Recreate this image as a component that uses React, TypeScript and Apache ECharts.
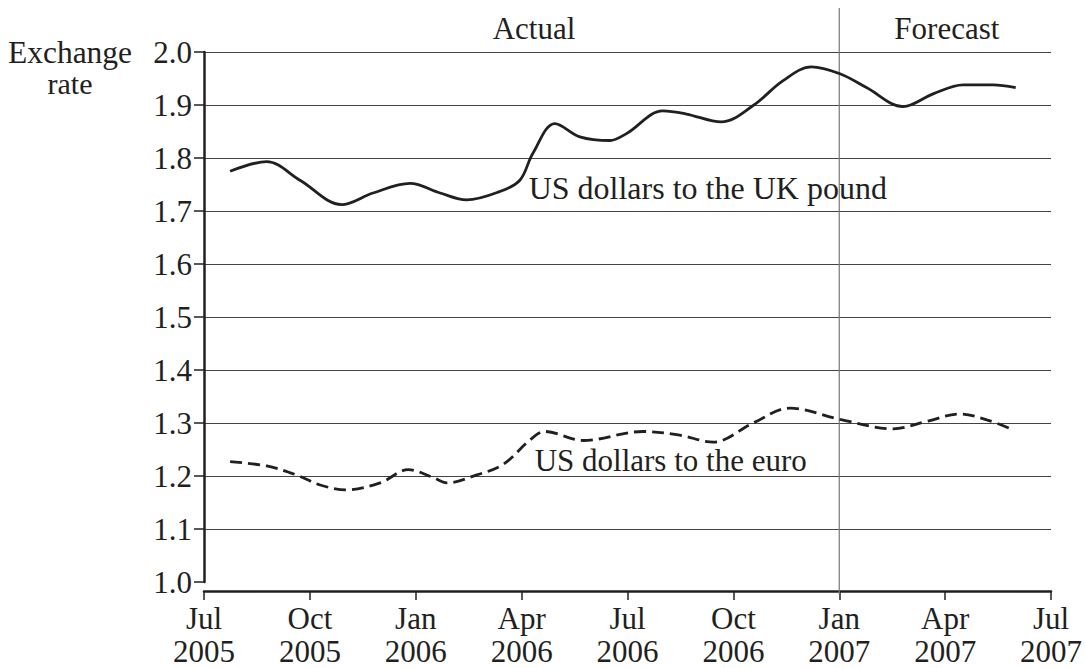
import React, { useEffect, useRef } from "react";
import * as echarts from "echarts";

// months since Jul 2005
const ukMonths = [0.74, 1.78, 2.72, 3.9, 4.79, 5.84, 6.69, 7.44, 8.39, 8.95, 9.32, 9.94, 10.65, 11.5, 11.97, 13.0, 13.67, 14.66, 15.56, 16.41, 17.21, 18.02, 18.77, 19.81, 20.66, 21.51, 22.36, 23.0];
const ukValues = [1.775, 1.793, 1.758, 1.712, 1.734, 1.752, 1.734, 1.721, 1.737, 1.758, 1.809, 1.865, 1.840, 1.833, 1.846, 1.889, 1.883, 1.868, 1.899, 1.946, 1.972, 1.959, 1.933, 1.897, 1.921, 1.938, 1.938, 1.933];

const euroMonths = [0.74, 1.78, 2.62, 3.29, 4.04, 4.99, 5.79, 6.5, 6.88, 7.73, 8.48, 9.24, 9.66, 10.74, 12.44, 13.48, 14.43, 15.56, 16.6, 18.02, 19.53, 20.47, 21.42, 22.18, 22.93];
const euroValues = [1.227, 1.219, 1.202, 1.183, 1.174, 1.187, 1.212, 1.197, 1.187, 1.202, 1.222, 1.268, 1.284, 1.267, 1.284, 1.277, 1.264, 1.300, 1.328, 1.307, 1.289, 1.303, 1.317, 1.306, 1.287];

const tickMonths = ["Jul", "Oct", "Jan", "Apr"];
const startYear = 2005;
const forecastStart = 18; // Jan 2007

const yAxisTitleLines = ["Exchange", "rate"];
const ukLabel = "US dollars to the UK pound";
const euroLabel = "US dollars to the euro";
const ukLabelAt = [9.2, 1.743];
const euroLabelAt = [9.37, 1.23];
const actualAt = 9.35;
const forecastAt = 21.05;

const FONT = "'Liberation Serif', 'Times New Roman', serif";
const INK = "#231f20";

export default function App() {
  const ref = useRef<HTMLDivElement>(null);
  useEffect(() => {
    if (!ref.current) return;
    const chart = echarts.init(ref.current, null, { renderer: "svg" });
    const zip = (xs: number[], ys: number[]) => xs.map((x, i) => [x, ys[i]]);
    chart.setOption({
      animation: false,
      textStyle: { fontFamily: FONT },
      grid: { left: 204, right: 33, top: 52, bottom: 83 },
      xAxis: {
        type: "value",
        min: 0,
        max: 24,
        interval: 3,
        offset: 9,
        axisLine: { show: true, lineStyle: { color: INK, width: 2.5 } },
        axisTick: { show: true, length: 9, lineStyle: { color: INK, width: 1.5 } },
        splitLine: { show: false },
        axisLabel: {
          margin: 11,
          color: INK,
          fontFamily: FONT,
          fontSize: 31,
          lineHeight: 33,
          formatter: (v: number) => {
            const idx = Math.round(v / 3) % 4;
            const year = startYear + Math.floor((v + 6) / 12);
            return `${tickMonths[idx]}\n${year}`;
          },
        },
      },
      yAxis: {
        type: "value",
        min: 1,
        max: 2,
        interval: 0.1,
        axisLine: { show: true, lineStyle: { color: INK, width: 2.5 } },
        axisTick: { show: true, length: 10, lineStyle: { color: INK, width: 1.5 } },
        splitLine: { show: true, showMinLine: false, lineStyle: { color: "#444", width: 1 } },
        axisLabel: {
          margin: 12,
          color: INK,
          fontFamily: FONT,
          fontSize: 31,
          formatter: (v: number) => v.toFixed(1),
        },
      },
      series: [
        {
          type: "line",
          data: zip(ukMonths, ukValues),
          smooth: 0.35,
          showSymbol: false,
          lineStyle: { color: INK, width: 2.8 },
        },
        {
          type: "line",
          data: zip(euroMonths, euroValues),
          smooth: 0.35,
          showSymbol: false,
          lineStyle: { color: INK, width: 2.8, type: [12, 6] },
        },
      ],
    });

    const px = (x: number, y: number) => chart.convertToPixel({ gridIndex: 0 }, [x, y]) as number[];
    const vx = px(forecastStart, 1)[0];
    const uk = px(ukLabelAt[0], ukLabelAt[1]);
    const eu = px(euroLabelAt[0], euroLabelAt[1]);
    const ax = px(actualAt, 2)[0];
    const fx = px(forecastAt, 2)[0];
    const textStyle = { fill: INK, fontFamily: FONT, fontSize: 31 };
    chart.setOption({
      graphic: [
        {
          type: "line",
          shape: { x1: vx, y1: 8, x2: vx, y2: 594 },
          style: { stroke: "#777", lineWidth: 1.2 },
          z: 1,
        },
        { type: "text", x: ax, y: 28, style: { ...textStyle, text: "Actual", textAlign: "center", textVerticalAlign: "middle" } },
        { type: "text", x: fx, y: 28, style: { ...textStyle, text: "Forecast", textAlign: "center", textVerticalAlign: "middle" } },
        ...yAxisTitleLines.map((t, i) => ({
          type: "text",
          x: 70,
          y: 52 + i * 31,
          style: { ...textStyle, fontSize: i === 0 ? 31.5 : 30, text: t, textAlign: "center", textVerticalAlign: "middle" },
        })),
        { type: "text", x: uk[0], y: uk[1], style: { ...textStyle, fontSize: 32, text: ukLabel, textAlign: "left", textVerticalAlign: "middle" } },
        { type: "text", x: eu[0], y: eu[1], style: { ...textStyle, text: euroLabel, textAlign: "left", textVerticalAlign: "middle" } },
      ],
    });
    return () => chart.dispose();
  }, []);
  return <div ref={ref} style={{ position: "fixed", left: 0, top: 0, width: 1085, height: 668, background: "#fff" }} />;
}
